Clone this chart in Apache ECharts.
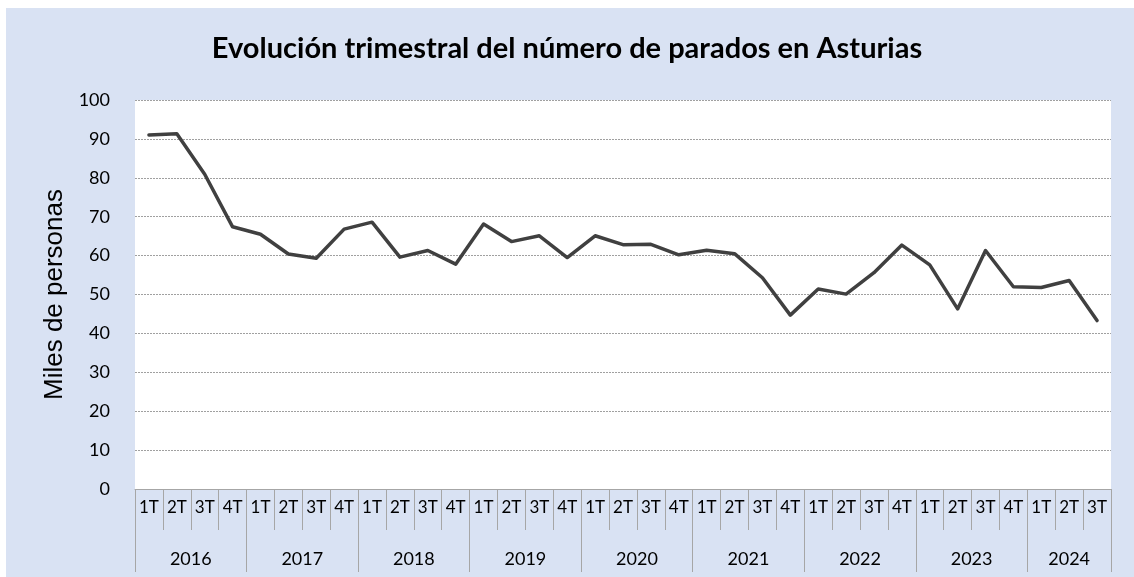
<!DOCTYPE html>
<html>
<head>
<meta charset="utf-8">
<title>Parados Asturias</title>
<script src="https://cdn.jsdelivr.net/npm/echarts@6/dist/echarts.min.js"></script>
<style>
  html, body { margin: 0; padding: 0; background: #fff; }
  #chart { width: 1134px; height: 577px; }
</style>
</head>
<body>
<div id="chart"></div>
<script>
// datos (miles de personas)
const quarters = [
  "1T", "2T", "3T", "4T", "1T", "2T", "3T", "4T", "1T", "2T", "3T", "4T",
  "1T", "2T", "3T", "4T", "1T", "2T", "3T", "4T", "1T", "2T", "3T", "4T",
  "1T", "2T", "3T", "4T", "1T", "2T", "3T", "4T", "1T", "2T", "3T"
];
const years = ["2016", "2017", "2018", "2019", "2020", "2021", "2022", "2023", "2024"];
const quartersPerYear = [4, 4, 4, 4, 4, 4, 4, 4, 3];
const parados = [
  91.0, 91.3, 80.9, 67.4, 65.5, 60.4, 59.3, 66.8, 68.6, 59.6, 61.3, 57.8,
  68.1, 63.6, 65.1, 59.5, 65.1, 62.8, 62.9, 60.2, 61.4, 60.5, 54.3, 44.7,
  51.4, 50.1, 55.6, 62.7, 57.6, 46.3, 61.3, 52.0, 51.8, 53.6, 43.3
];
const yTicks = [0, 10, 20, 30, 40, 50, 60, 70, 80, 90, 100];

// centro de cada año en unidades de trimestre
const yearCenters = [];
let start = 0;
years.forEach(function (y, i) {
  yearCenters.push({ pos: start + quartersPerYear[i] / 2, label: y });
  start += quartersPerYear[i];
});

// primer trimestre de cada año (separadores)
const yearStarts = [];
start = 0;
quartersPerYear.forEach(function (n) {
  yearStarts.push(start);
  start += n;
});

const labelFont = "Lato, 'Noto Sans', sans-serif";
const axisGrey = "#A6A6A6";

let chart = echarts.init(document.getElementById("chart"));
let option = {
  backgroundColor: "#fff",
  animation: false,
  graphic: [
    {
      type: "rect",
      left: 6,
      top: 8,
      shape: { width: 1128, height: 569 },
      style: { fill: "#D9E2F3" },
      z: -10,
    },
  ],
  title: {
    text: "Evolución trimestral del número de parados en Asturias",
    left: "center",
    top: 34,
    padding: 0,
    textStyle: {
      fontFamily: labelFont,
      fontSize: 29,
      fontWeight: "bold",
      color: "#000",
    },
  },
  grid: {
    left: 135,
    right: 23,
    top: 100,
    bottom: 88,
    show: true,
    backgroundColor: "#fff",
    borderWidth: 0,
    containLabel: false,
  },
  xAxis: [
    {
      type: "category",
      data: quarters,
      position: "bottom",
      axisLine: { lineStyle: { color: axisGrey, width: 1 } },
      axisTick: { show: true, interval: 0, length: 41, lineStyle: { color: axisGrey } },
      axisLabel: { interval: 0, margin: 10, fontSize: 17, color: "#000", fontFamily: labelFont },
      splitLine: { show: false },
    },
    {
      type: "category",
      data: quarters,
      position: "bottom",
      axisLine: { show: false },
      axisTick: {
        show: true,
        length: 83,
        interval: function (index) {
          return yearStarts.indexOf(index) >= 0;
        },
        lineStyle: { color: axisGrey },
      },
      axisLabel: { show: false },
      splitLine: { show: false },
    },
    {
      type: "value",
      min: 0,
      max: quarters.length,
      interval: 0.5,
      position: "bottom",
      axisLine: { show: false },
      axisTick: { show: false },
      splitLine: { show: false },
      axisLabel: {
        margin: 61,
        fontSize: 18,
        color: "#000",
        fontFamily: labelFont,
        formatter: function (v) {
          const hit = yearCenters.find(function (c) {
            return Math.abs(c.pos - v) < 0.01;
          });
          return hit ? hit.label : "";
        },
      },
    },
  ],
  yAxis: {
    type: "value",
    min: yTicks[0],
    max: yTicks[yTicks.length - 1],
    interval: 10,
    name: "Miles de personas",
    nameLocation: "middle",
    nameRotate: 90,
    nameGap: 66,
    nameTextStyle: {
      fontFamily: "'Liberation Sans', Arial, sans-serif",
      fontSize: 26,
      color: "#000",
    },
    axisLine: { show: false },
    axisTick: { show: false },
    axisLabel: { margin: 25, fontSize: 18, color: "#000", fontFamily: labelFont },
    splitLine: {
      show: true,
      lineStyle: { color: "#A0A0A0", type: [2, 1], width: 1 },
    },
  },
  series: [
    {
      name: "Parados",
      type: "line",
      data: parados,
      xAxisIndex: 0,
      yAxisIndex: 0,
      symbol: "none",
      lineStyle: { color: "#404040", width: 3.5, join: "round", cap: "round" },
      z: 5,
    },
  ],
};

option && chart.setOption(option);
</script>
</body>
</html>
